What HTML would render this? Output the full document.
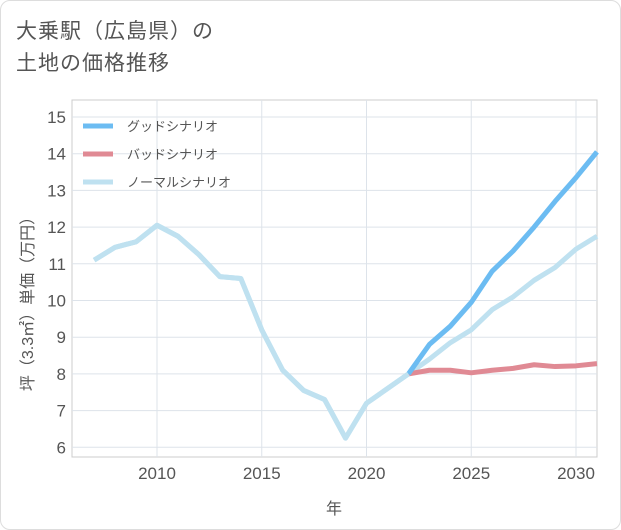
<!DOCTYPE html>
<html><head><meta charset="utf-8"><style>
body{margin:0;width:621px;height:530px;background:#fff;font-family:"Liberation Sans","Noto Sans CJK JP",sans-serif;overflow:hidden}
.card{position:absolute;left:0;top:0;width:619px;height:528px;border:1px solid #ddd;border-radius:10px;background:#fff}
.title{position:absolute;left:16px;top:16px;font-size:21px;line-height:32px;color:#555;letter-spacing:1px}
</style></head><body>
<div class="card"></div>
<div class="title">大乗駅（広島県）の<br>土地の価格推移</div>
<svg id="c" width="621" height="530" style="position:absolute;left:0;top:0"></svg>
<script>
const years=[2007,2008,2009,2010,2011,2012,2013,2014,2015,2016,2017,2018,2019,2020,2021,2022,2023,2024,2025,2026,2027,2028,2029,2030,2031];
const normal=[11.1,11.45,11.6,12.05,11.75,11.25,10.65,10.6,9.2,8.1,7.55,7.3,6.25,7.2,7.6,8.0,8.4,8.85,9.2,9.75,10.1,10.55,10.9,11.4,11.75];
const goodYears=[2022,2023,2024,2025,2026,2027,2028,2029,2030,2031];
const good=[8.0,8.8,9.3,9.95,10.8,11.35,12.0,12.7,13.35,14.05];
const bad=[8.0,8.1,8.1,8.03,8.1,8.15,8.25,8.2,8.22,8.28];
const yTicks=[6,7,8,9,10,11,12,13,14,15];
const xTicks=[2010,2015,2020,2025,2030];
const NS="http://www.w3.org/2000/svg",svg=document.getElementById('c');
const L=72,R=597,T=100,B=457;
const x=v=>157+(v-2010)*20.95;
const y=v=>117+(15-v)*36.7;
function el(t,a,txt){const e=document.createElementNS(NS,t);for(const k in a)e.setAttribute(k,a[k]);if(txt!==undefined)e.textContent=txt;svg.appendChild(e);return e;}
const bg=el('rect',{x:L,y:T,width:R-L,height:B-T,fill:'#fff',stroke:'#ccc'});


yTicks.forEach(v=>{
const g=el('line',{x1:L,x2:R,y1:y(v),y2:y(v),stroke:'#dde3ea'});


const t=el('text',{x:L-6,y:y(v)+6,'text-anchor':'end','font-size':17,fill:'#555'},v);


});
xTicks.forEach(v=>{
const g=el('line',{x1:x(v),x2:x(v),y1:T,y2:B,stroke:'#dde3ea'});


const t=el('text',{x:x(v),y:B+22,'text-anchor':'middle','font-size':17,fill:'#555'},v);


});
const xt=el('text',{x:334,y:514,'text-anchor':'middle','font-size':16,fill:'#555'},'年');


const yt=el('text',{x:0,y:0,'text-anchor':'middle','font-size':16,fill:'#555',transform:'translate(33,300) rotate(-90)'},'坪（3.3㎡）単価（万円）');


function line(xs,vs,c,name){const p=el('polyline',{points:xs.map((v,i)=>x(v)+','+y(vs[i])).join(' '),fill:'none',stroke:c,'stroke-width':5,'stroke-linejoin':'round'});

}
line(years,normal,'#bfe1f0','normal-scenario-line');
line(goodYears,bad,'#e08a94','bad-scenario-line');
line(goodYears,good,'#6cbcf2','good-scenario-line');
line(years.slice(0,16),normal.slice(0,16),'#bfe1f0','history-line');
const leg=[['グッドシナリオ','#6cbcf2'],['バッドシナリオ','#e08a94'],['ノーマルシナリオ','#bfe1f0']];
leg.forEach((d,i)=>{const yy=126+i*28;
const s=el('line',{x1:83,x2:113,y1:yy,y2:yy,stroke:d[1],'stroke-width':5});


const t=el('text',{x:127,y:yy+5,'font-size':13,fill:'#555'},d[0]);

});
</script>
</body></html>
